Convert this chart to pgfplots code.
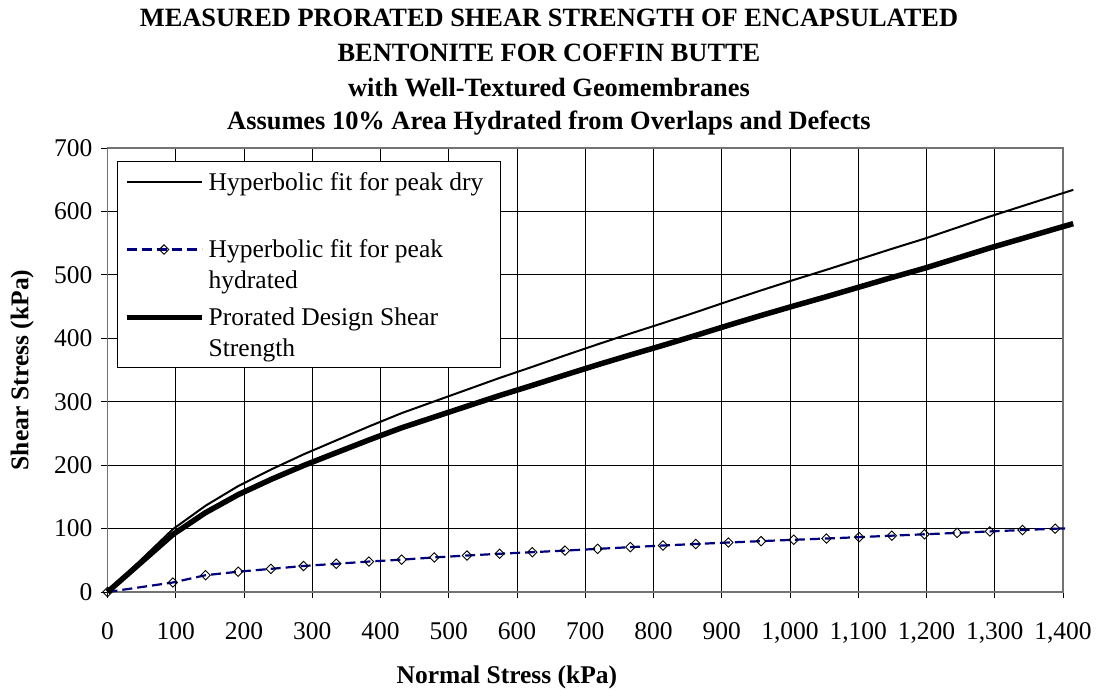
\documentclass[border=0pt]{standalone}
\usepackage{pgfplots}
\pgfplotsset{compat=1.18}
\usepackage{pgfplotstable}
\usepackage{fontspec}
\setmainfont{Liberation Serif}
\definecolor{navyline}{RGB}{0,0,128}

\pgfplotstableread{
x dry pro
0 0 0
95.76 99 90.6
143.64 136 125.1
191.52 167 153.5
239.4 193 177.4
287.28 217 199.4
335.16 239 219.6
383.04 261 239.7
430.92 282 258.9
478.8 300.5 275.9
526.68 319 292.9
574.56 337.5 309.8
622.44 355 325.8
670.32 373 342.2
718.2 390.5 358.3
766.08 407.5 373.8
813.96 424 388.9
861.84 441 404.5
909.72 458.5 420.5
957.6 475.5 436.0
1005.48 492 451.0
1053.36 508 465.6
1101.24 524.5 480.7
1149.12 541 495.8
1197.0 557 510.4
1244.88 574.5 526.4
1292.76 592 542.4
1340.64 608.5 557.4
1388.52 625 572.5
1415 634 580.7
}\drytable

\pgfplotstableread{
x hyd
0 0
95.76 15
143.64 26.5
191.52 32
239.4 36.5
287.28 41
335.16 44.5
383.04 48
430.92 51
478.8 54.5
526.68 57.5
574.56 60.3
622.44 62.8
670.32 65.3
718.2 68
766.08 70.7
813.96 73.3
861.84 75.7
909.72 78
957.6 80.2
1005.48 82.3
1053.36 84.3
1101.24 86.5
1149.12 88.8
1197.0 91
1244.88 93.2
1292.76 95.5
1340.64 97.7
1388.52 99.8
}\hydtable

\pgfplotstableread{
x hyd
1388.52 99.8
1405 100.3
}\hydend

\newcommand{\lfont}{\fontsize{12.75}{15.5}\selectfont}

\begin{document}
\begin{tikzpicture}[font=\lfont]
\useasboundingbox (-53.75pt,-49.5pt) rectangle (495.25pt,296pt);
\begin{axis}[
  at={(0pt,0pt)}, anchor=south west,
  scale only axis, width=477.75pt, height=222pt,
  xmin=0, xmax=1400, ymin=0, ymax=700,
  xtick distance=100, ytick distance=100,
  grid=major,
  major grid style={black, line width=0.45pt},
  axis line style={black!55, line width=0.9pt},
  tick pos=left, tick align=outside, major tick length=3pt,
  tick style={black, line width=0.45pt},
  /pgf/number format/assume math mode=true,
  /pgf/number format/1000 sep={,},
  ticklabel style={font=\lfont},
  xticklabel style={anchor=base, yshift=-20.9pt},
  yticklabel style={anchor=east, xshift=-1pt},
  xlabel={\textbf{Normal Stress (kPa)}},
  ylabel={\textbf{Shear Stress (kPa)}},
  xlabel style={at={(axis description cs:0.418,-0.2072)}, anchor=base},
  ylabel style={at={(axis description cs:-0.0829,0.5)}, anchor=base},
  clip=false,
  legend image code/.code={\draw[mark repeat=2,mark phase=2,#1] plot coordinates {(0pt,4.2pt)(18.75pt,4.2pt)(37.5pt,4.2pt)};},
  legend style={at={(0.00994,0.970)}, anchor=north west, draw=black, line width=0.5pt, fill=white,
    inner xsep=3.15pt, inner ysep=0.85pt, column sep=2.2pt, row sep=0.6pt,
    cells={anchor=base west}, nodes={inner sep=0pt, text height=13.3pt, text depth=20pt}, font=\lfont},
]
\addplot[black, line width=1pt, no marks] table[x=x, y=dry] {\drytable};
\addlegendentry{\parbox[t]{143pt}{Hyperbolic fit for peak dry}}
\addplot[navyline, line width=1.1pt, dash pattern=on 5pt off 2.5pt, mark=square,
  mark size=1.66pt, mark options={solid, rotate=45, draw=black, fill=white, line width=0.45pt}]
  table[x=x, y=hyd] {\hydtable};
\addlegendentry{\parbox[t]{143pt}{Hyperbolic fit for peak\\hydrated}}
\addplot[black, line width=2.75pt, no marks] table[x=x, y=pro] {\drytable};
\addlegendentry{\parbox[t]{143pt}{Prorated Design Shear\\Strength}}
\addplot[navyline, line width=1.1pt, dash pattern=on 5pt off 2.5pt, no marks, forget plot]
  table[x=x, y=hyd] {\hydend};
\end{axis}
\begin{scope}[font=\fontsize{13.2}{14}\selectfont\bfseries]
\node[anchor=base, inner sep=0pt] at (220.75pt,282.5pt) {MEASURED PRORATED SHEAR STRENGTH OF ENCAPSULATED};
\node[anchor=base, inner sep=0pt] at (220.75pt,265.3pt) {BENTONITE FOR COFFIN BUTTE};
\node[anchor=base, inner sep=0pt] at (220.75pt,247.8pt) {with Well-Textured Geomembranes};
\node[anchor=base, inner sep=0pt] at (220.75pt,231.3pt) {Assumes 10\% Area Hydrated from Overlaps and Defects};
\end{scope}
\end{tikzpicture}
\end{document}
